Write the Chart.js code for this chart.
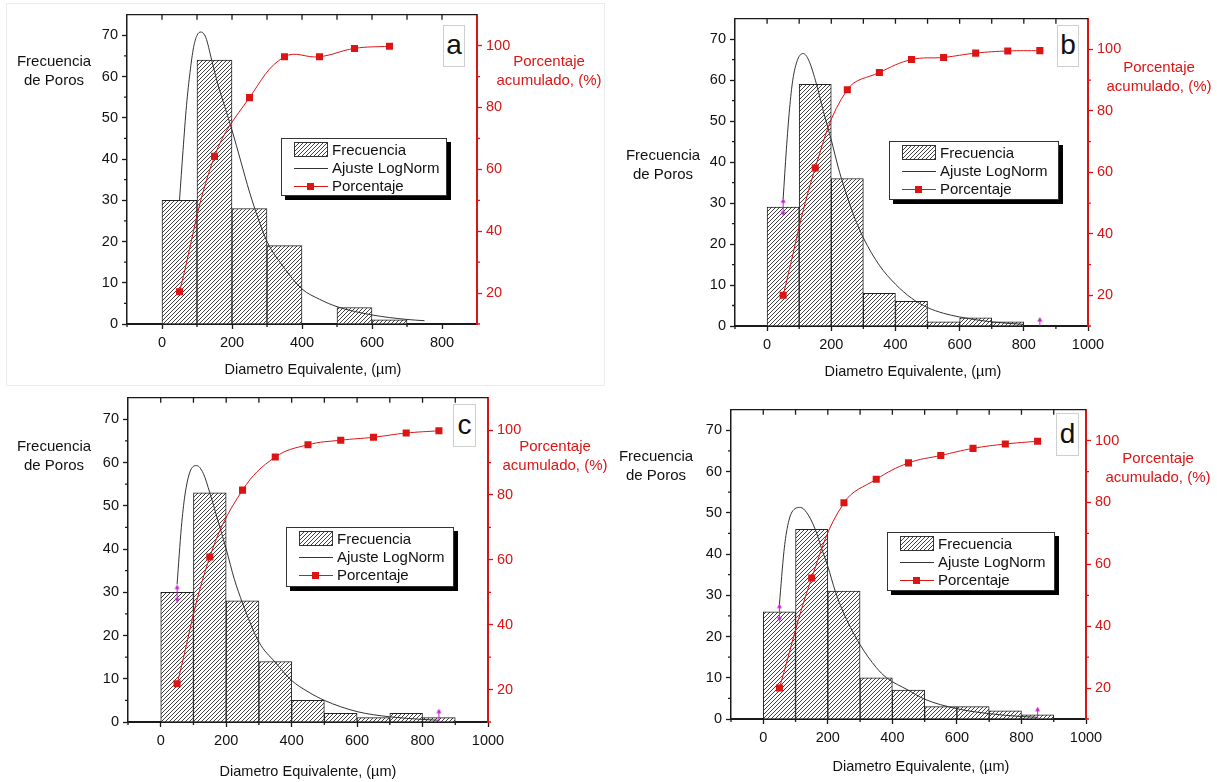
<!DOCTYPE html>
<html>
<head>
<meta charset="utf-8">
<script src="https://cdn.jsdelivr.net/npm/chart.js@4.4.1/dist/chart.umd.min.js"></script>
<style>
body { margin: 0; background: #fff; width: 1217px; height: 782px; position: relative; overflow: hidden;
  font-family: 'Liberation Sans', Arial, sans-serif; color: #111; }
.panel { position: absolute; }
.lbl { position: absolute; font-size: 15px; line-height: 18.5px; text-align: center; white-space: nowrap; transform: translateX(-50%); }
.red { color: #dc1414; }
.xt { font-size: 14.5px; }
.legend { position: absolute; box-sizing: border-box; background: #fff; border: 1px solid #333; box-shadow: 4px 4px 0 #000; font-size: 15px; }
.legend .t { position: absolute; left: 50px; height: 18px; line-height: 18px; white-space: nowrap; }
.legend .sw { position: absolute; left: 12px; width: 34px; box-sizing: border-box; }
.tag { position: absolute; box-sizing: border-box; border: 1px solid #cfcfcf; background: #fff; font-size: 28px; text-align: center; }
.frame { position: absolute; border: 1px solid #ececec; }
</style>
</head>
<body>
<script>
// Bin centres of the histograms (µm)
const bins = [50, 150, 250, 350, 450, 550, 650, 750, 850];

// Pore counts per 100 µm bin
const frecA = [30, 64, 28, 19, 0, 4, 1];
const frecB = [29, 59, 36, 8, 6, 1, 2, 1];
const frecC = [30, 53, 28, 14, 5, 2, 1, 2, 1];
const frecD = [26, 46, 31, 10, 7, 3, 3, 2, 1];

// Cumulative percentage at each bin centre
const pctA = [20.4, 64.2, 83.2, 96.4, 96.4, 99.1, 99.8];
const pctB = [20, 61.4, 86.9, 92.5, 96.7, 97.4, 98.8, 99.5, 99.6];
const pctC = [21.8, 60.9, 81.5, 91.7, 95.5, 96.9, 97.8, 99.1, 99.8];
const pctD = [20, 55.6, 79.9, 87.5, 92.8, 95.2, 97.5, 98.9, 99.8];

// Log-normal fit curves
const fitXA = [50, 60, 70, 80, 90, 100, 111, 125, 142, 160, 180, 200, 225, 250, 275, 300, 350, 400, 450, 500, 600, 700, 750];
const fitYA = [30, 42, 53, 61, 67, 70, 70.8, 69.5, 64, 58, 52.5, 47, 39.5, 32, 25.5, 20, 13.5, 8.5, 6, 4.2, 2.2, 1.1, 0.8];
const fitXB = [50, 60, 70, 80, 95, 113, 130, 154, 175, 198, 226, 250, 275, 300, 350, 400, 450, 500, 550, 600, 700, 800];
const fitYB = [31, 43, 53, 60, 65, 66.5, 64.8, 59, 52.5, 46, 37.5, 31.5, 26, 21.5, 14.8, 10.2, 6.8, 4.5, 3.1, 2.2, 1, 0.4];
const fitXC = [50, 63, 74, 89, 110, 130, 150, 175, 200, 225, 250, 300, 350, 400, 450, 500, 600, 700, 800, 850];
const fitYC = [31.8, 45, 52.5, 57.8, 59.3, 57.5, 53, 46.5, 40, 33, 27.5, 18.5, 13.8, 9.6, 7, 5, 2.4, 1.2, 0.6, 0.4];
const fitXD = [50, 64, 74, 89, 115, 135, 161, 180, 200, 223, 250, 300, 350, 382, 449, 500, 600, 700, 800, 850];
const fitYD = [27.8, 40.6, 46.2, 50.2, 51.3, 50, 46, 41.5, 37, 31, 25.5, 18, 12.5, 10, 7, 4.8, 2.5, 1.3, 0.6, 0.4];

// Data-reader cursors left on the plots
const markX = [50, 850];
const markYB = [29, 0];
const markYC = [29.7, 1];
const markYD = [25.8, 0.8];

// Tick labels
const xTicksA = [0, 200, 400, 600, 800];
const xTicks = [0, 200, 400, 600, 800, 1000];
const yTicks = [0, 10, 20, 30, 40, 50, 60, 70];
const pctTicks = [20, 40, 60, 80, 100];

const FONT = "'Liberation Sans', Arial, sans-serif";
const RED = '#dc1414';
const INK = '#1a1a1a';

// Diagonal hatch tile for the bars
function hatchTile() {
	const n = 4;
	const c = document.createElement('canvas');
	c.width = n; c.height = n;
	const g = c.getContext('2d');
	g.fillStyle = '#fff';
	g.fillRect(0, 0, n, n);
	g.strokeStyle = '#404040';
	g.lineWidth = 1;
	g.beginPath();
	g.moveTo(-1, n + 1); g.lineTo(n + 1, -1);
	g.stroke();
	return c;
}

// Small magenta double arrow
function arrowMark() {
	const c = document.createElement('canvas');
	c.width = 7; c.height = 18;
	const g = c.getContext('2d');
	g.strokeStyle = g.fillStyle = '#c81ed8';
	g.lineWidth = 1;
	g.beginPath(); g.moveTo(3.5, 2); g.lineTo(3.5, 16); g.stroke();
	g.beginPath(); g.moveTo(3.5, 0); g.lineTo(1, 4.5); g.lineTo(6, 4.5); g.closePath(); g.fill();
	g.beginPath(); g.moveTo(3.5, 18); g.lineTo(1, 13.5); g.lineTo(6, 13.5); g.closePath(); g.fill();
	return c;
}

const tile = hatchTile();
const hatch = document.createElement('canvas').getContext('2d').createPattern(tile, 'repeat');
const arrow = arrowMark();

// Top frame line, its inward ticks, and the minor ticks of the three axes
const axisMarks = {
	id: 'axisMarks',
	afterDraw(chart, args, o) {
		const { ctx, chartArea: a, scales } = chart;
		ctx.save();
		ctx.lineWidth = 1.3;
		ctx.strokeStyle = INK;
		ctx.beginPath();
		ctx.moveTo(a.left, a.top); ctx.lineTo(a.right, a.top);
		o.top.forEach(v => {
			const px = scales.x.getPixelForValue(v);
			ctx.moveTo(px, a.top); ctx.lineTo(px, a.top + 5);
		});
		o.xMinor.forEach(v => {
			const px = scales.x.getPixelForValue(v);
			ctx.moveTo(px, a.bottom); ctx.lineTo(px, a.bottom + 3);
		});
		o.yMinor.forEach(v => {
			const py = scales.y.getPixelForValue(v);
			ctx.moveTo(a.left, py); ctx.lineTo(a.left - 3, py);
		});
		ctx.stroke();
		ctx.strokeStyle = RED;
		ctx.beginPath();
		o.pctMinor.forEach(v => {
			const py = scales.y1.getPixelForValue(v);
			ctx.moveTo(a.right, py); ctx.lineTo(a.right + 3, py);
		});
		ctx.stroke();
		ctx.restore();
	}
};

function xy(xs, ys) {
	return xs.map((x, i) => ({ x: x, y: ys[i] }));
}

function addDiv(cls, x, y, html) {
	const d = document.createElement('div');
	d.className = cls;
	d.style.left = x + 'px';
	d.style.top = y + 'px';
	if(html !== undefined) d.innerHTML = html;
	document.body.appendChild(d);
	return d;
}

function legend(l) {
	const box = addDiv('legend', l.x, l.y);
	box.style.width = l.w + 'px';
	box.style.height = l.h + 'px';

	const sw = document.createElement('div');
	sw.className = 'sw';
	sw.style.top = '3px';
	sw.style.height = '15px';
	sw.style.border = '1px solid #333';
	sw.style.backgroundImage = 'url(' + tile.toDataURL() + ')';
	box.appendChild(sw);

	const fit = document.createElement('div');
	fit.className = 'sw';
	fit.style.top = '29px';
	fit.style.borderTop = '1px solid #333';
	box.appendChild(fit);

	const pl = document.createElement('div');
	pl.className = 'sw';
	pl.style.top = '47px';
	pl.style.borderTop = '1px solid ' + RED;
	box.appendChild(pl);

	const sq = document.createElement('div');
	sq.style.cssText = 'position:absolute;left:25px;top:44px;width:7px;height:7px;background:' + RED;
	box.appendChild(sq);

	['Frecuencia', 'Ajuste LogNorm', 'Porcentaje'].forEach((t, i) => {
		const s = document.createElement('div');
		s.className = 't';
		s.style.top = (2 + i * 18) + 'px';
		s.textContent = t;
		box.appendChild(s);
	});
}

function panel(p) {
	const padX = 70, padT = 10, padB = 50;
	const [L, T, R, B] = p.box;
	const wrap = addDiv('panel', L - padX, T - padT);
	wrap.style.width = (R - L + 2 * padX) + 'px';
	wrap.style.height = (B - T + padT + padB) + 'px';
	const cv = document.createElement('canvas');
	wrap.appendChild(cv);

	const tickFont = { family: FONT, size: 14.5 };
	const datasets = [];
	if(p.markY) {
		datasets.push({
			type: 'line', data: xy(markX, p.markY), showLine: false,
			pointStyle: arrow, pointRadius: 4, order: 0
		});
	}
	datasets.push({
		type: 'line', data: xy(bins, p.pct), yAxisID: 'y1',
		borderColor: RED, borderWidth: 1, tension: 0.4,
		pointStyle: 'rect', pointRadius: 5, pointBackgroundColor: RED, pointBorderWidth: 0, order: 1
	});
	datasets.push({
		type: 'line', data: xy(p.fitX, p.fitY), yAxisID: 'y',
		borderColor: '#333', borderWidth: 1, cubicInterpolationMode: 'monotone', pointRadius: 0, order: 2
	});
	datasets.push({
		type: 'bar', data: xy(bins, p.frec), yAxisID: 'y',
		backgroundColor: hatch, borderColor: '#222', borderWidth: 1,
		barPercentage: 1, categoryPercentage: 1, order: 3
	});

	const xMax = p.xTicks[p.xTicks.length - 1] === 1000 ? 1000 : 900;
	const hundreds = [];
	for(let v = 0; v < xMax; v += 100) hundreds.push(v);

	new Chart(cv, {
		type: 'bar',
		data: { datasets: datasets },
		options: {
			responsive: true,
			maintainAspectRatio: false,
			animation: false,
			events: [],
			layout: { padding: { top: padT, left: 0, right: 0, bottom: 0 } },
			plugins: {
				legend: { display: false },
				tooltip: { enabled: false },
				axisMarks: {
					top: hundreds,
					xMinor: hundreds.filter(v => v % 200 === 100).concat([-100]),
					yMinor: [5, 15, 25, 35, 45, 55, 65],
					pctMinor: [10, 30, 50, 70, 90]
				}
			},
			scales: {
				x: {
					type: 'linear', min: -100, max: xMax, offset: false,
					grid: { offset: false, drawOnChartArea: false, tickLength: 5, tickWidth: 1.3, tickColor: INK },
					border: { color: INK, width: 2 },
					ticks: { font: tickFont, color: '#111', padding: 5, autoSkip: false, maxRotation: 0, callback: v => String(v) },
					afterBuildTicks: s => { s.ticks = p.xTicks.map(v => ({ value: v })); },
					afterFit: s => { s.height = padB; }
				},
				y: {
					position: 'left', min: 0, max: 75,
					grid: { drawOnChartArea: false, tickLength: 5, tickWidth: 1.3, tickColor: INK },
					border: { color: INK, width: 1.5 },
					ticks: { font: tickFont, color: '#111', padding: 4, callback: v => String(v) },
					afterBuildTicks: s => { s.ticks = yTicks.map(v => ({ value: v })); },
					afterFit: s => { s.width = padX; }
				},
				y1: {
					position: 'right', min: 10, max: 110,
					grid: { drawOnChartArea: false, tickLength: 5, tickWidth: 1.3, tickColor: RED },
					border: { color: RED, width: 2 },
					ticks: { font: tickFont, color: RED, padding: 4, callback: v => String(v) },
					afterBuildTicks: s => { s.ticks = pctTicks.map(v => ({ value: v })); },
					afterFit: s => { s.width = padX; }
				}
			}
		},
		plugins: [axisMarks]
	});

	addDiv('lbl', p.yTitle[0], p.yTitle[1], 'Frecuencia<br>de Poros');
	addDiv('lbl red', p.rTitle[0], p.rTitle[1], 'Porcentaje<br>acumulado, (%)');
	addDiv('lbl xt', p.xTitle[0], p.xTitle[1], 'Diametro Equivalente, (&micro;m)');
	legend(p.legend);
	const tag = addDiv('tag', p.tag[0], p.tag[1], p.letter);
	tag.style.width = p.tag[2] + 'px';
	tag.style.height = p.tag[3] + 'px';
	tag.style.lineHeight = (p.tag[3] - 4) + 'px';
}

// faint border around the first panel
const fr = addDiv('frame', 6, 3);
fr.style.width = '597px';
fr.style.height = '381px';

panel({
	letter: 'a', box: [127, 12, 477, 324], xTicks: xTicksA,
	frec: frecA, pct: pctA, fitX: fitXA, fitY: fitYA,
	yTitle: [54, 52], rTitle: [549, 52], xTitle: [313, 360],
	legend: { x: 281, y: 138, w: 166, h: 58 }, tag: [443, 25, 22, 42]
});
panel({
	letter: 'b', box: [735, 16, 1088, 326], xTicks: xTicks,
	frec: frecB, pct: pctB, fitX: fitXB, fitY: fitYB, markY: markYB,
	yTitle: [663, 146], rTitle: [1159, 58], xTitle: [913, 362],
	legend: { x: 889, y: 141, w: 170, h: 59 }, tag: [1057, 25, 22, 42]
});
panel({
	letter: 'c', box: [128, 395, 488, 722], xTicks: xTicks,
	frec: frecC, pct: pctC, fitX: fitXC, fitY: fitYC, markY: markYC,
	yTitle: [54, 437], rTitle: [555, 437], xTitle: [308, 762],
	legend: { x: 286, y: 527, w: 168, h: 60 }, tag: [453, 404, 23, 43]
});
panel({
	letter: 'd', box: [731, 407, 1086, 719], xTicks: xTicks,
	frec: frecD, pct: pctD, fitX: fitXD, fitY: fitYD, markY: markYD,
	yTitle: [656, 447], rTitle: [1158, 449], xTitle: [921, 757],
	legend: { x: 887, y: 532, w: 168, h: 59 }, tag: [1056, 413, 23, 43]
});
</script>
</body>
</html>
